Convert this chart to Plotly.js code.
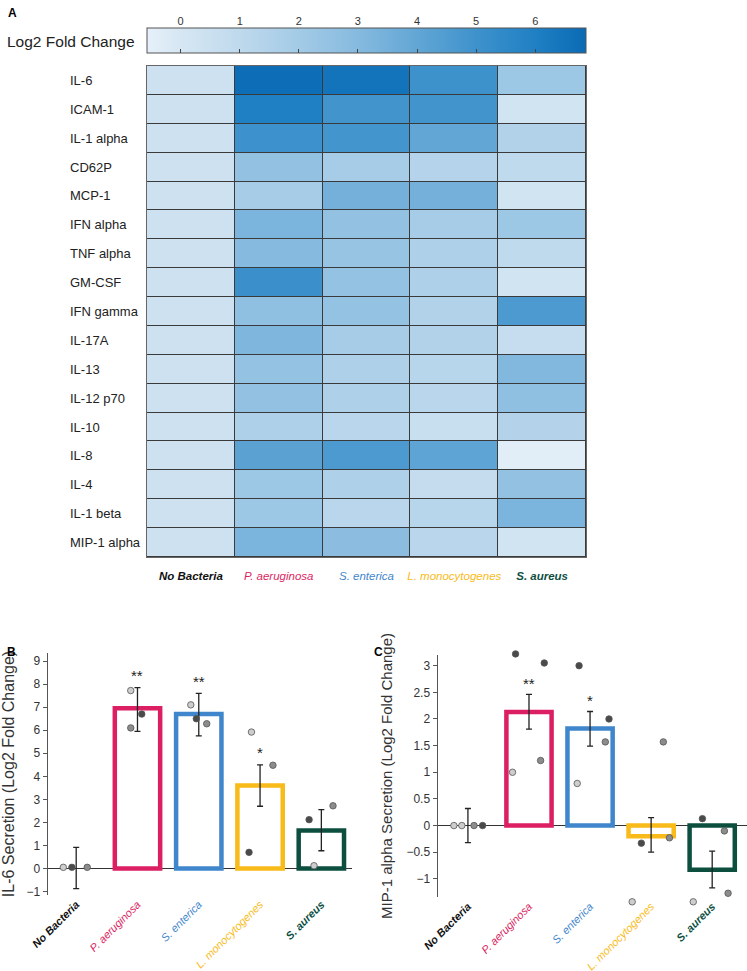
<!DOCTYPE html>
<html>
<head>
<meta charset="utf-8">
<script src="https://cdn.plot.ly/plotly-3.0.1.min.js"></script>
<style>
  html, body { margin: 0; padding: 0; background: #fff; }
  #plot { width: 747px; height: 971px; }
</style>
</head>
<body>
<div id="plot"></div>
<script>
// categories
var bacteria = ['No Bacteria', 'P. aeruginosa', 'S. enterica', 'L. monocytogenes', 'S. aureus'];
var bacteriaColors = ['#111111', '#dc1f63', '#3f86cc', '#f9bb1a', '#0d4f3f'];
var bacteriaBold = [true, false, false, false, true];

var cytokines = ['IL-6', 'ICAM-1', 'IL-1 alpha', 'CD62P', 'MCP-1', 'IFN alpha', 'TNF alpha', 'GM-CSF',
  'IFN gamma', 'IL-17A', 'IL-13', 'IL-12 p70', 'IL-10', 'IL-8', 'IL-4', 'IL-1 beta', 'MIP-1 alpha'];

// panel A: log2 fold change per column
var noBacteria   = [0.4, 0.4, 0.4, 0.4, 0.4, 0.4, 0.4, 0.4, 0.4, 0.4, 0.4, 0.4, 0.4, 0.4, 0.4, 0.4, 0.4];
var pAeruginosa  = [6.75, 6.0, 5.05, 2.6, 1.9, 3.3, 3.0, 5.1, 2.7, 3.2, 2.5, 2.6, 1.6, 4.2, 2.2, 2.2, 3.3];
var sEnterica    = [6.5, 4.9, 4.85, 1.9, 3.5, 2.6, 2.4, 2.5, 2.5, 1.9, 1.6, 1.6, 1.2, 4.6, 1.6, 1.2, 2.8];
var lMonocyto    = [5.0, 4.9, 4.0, 1.35, 3.5, 1.9, 1.6, 1.6, 1.5, 1.5, 1.3, 1.2, 0.6, 4.1, 0.8, 1.3, 1.2];
var sAureus      = [2.2, 0.2, 1.5, 1.0, 0.2, 2.2, 1.0, 0.2, 4.6, 0.7, 3.1, 2.7, 1.4, -0.4, 2.6, 3.3, 0.2];
var scaleTicks = [0, 1, 2, 3, 4, 5, 6];
var zMin = -0.57, zMax = 6.86;

// panel B: IL-6
var il6Mean = [0, 6.95, 6.7, 3.6, 1.65];
var il6ErrPlus = [0.92, 0.9, 0.9, 0.9, 0.9];
var il6ErrMinus = [0.87, 1.0, 0.95, 0.9, 0.88];
var il6Stars = ['', '**', '**', '*', ''];
var il6PtGroup  = [0, 0, 0, 1, 1, 1, 2, 2, 2, 3, 3, 3, 4, 4, 4];
var il6PtOffset = [-0.21, -0.07, 0.18, -0.11, 0.07, -0.11, -0.13, -0.04, 0.13, -0.14, 0.21, -0.18, -0.2, 0.19, -0.12];
var il6PtValue  = [0.05, 0.05, 0.05, 7.72, 6.7, 6.1, 7.1, 6.5, 6.28, 5.92, 4.48, 0.7, 2.12, 2.72, 0.12];
var il6PtShade  = ['L', 'D', 'M', 'L', 'D', 'M', 'L', 'D', 'M', 'L', 'M', 'D', 'D', 'M', 'L'];

// panel C: MIP-1 alpha
var mipMean = [0, 2.13, 1.82, -0.2, -0.83];
var mipErrPlus = [0.32, 0.33, 0.32, 0.35, 0.35];
var mipErrMinus = [0.32, 0.32, 0.33, 0.3, 0.34];
var mipStars = ['', '**', '*', '', ''];
var mipPtGroup  = [0, 0, 0, 0, 1, 1, 1, 1, 2, 2, 2, 2, 3, 3, 3, 3, 4, 4, 4, 4];
var mipPtOffset = [-0.23, -0.1, 0.1, 0.24, -0.22, 0.25, -0.27, 0.19, -0.18, 0.31, 0.25, -0.21,
  0.2, -0.16, 0.3, -0.31, -0.16, 0.2, -0.31, 0.26];
var mipPtValue  = [0, 0, 0, 0, 3.22, 3.05, 1.0, 1.22, 3.0, 2.0, 1.57, 0.79,
  1.57, -0.33, -0.23, -1.43, 0.13, -0.1, -1.43, -1.27];
var mipPtShade  = ['L', 'L', 'M', 'D', 'D', 'D', 'L', 'M', 'D', 'D', 'M', 'L',
  'M', 'D', 'M', 'L', 'D', 'M', 'L', 'M'];

var shadeColor = {L: '#cdcdcd', M: '#8c8c8c', D: '#4a4a4a'};
var FONT = 'Liberation Sans, Arial, sans-serif';

var z = cytokines.map(function (c, i) {
  return [noBacteria[i], pAeruginosa[i], sEnterica[i], lMonocyto[i], sAureus[i]];
});

function tickLabel(name, i) {
  var t = '<i>' + name + '</i>';
  if (bacteriaBold[i]) t = '<b>' + t + '</b>';
  return '<span style="color:' + bacteriaColors[i] + '">' + t + '</span>';
}
var idx = bacteria.map(function (b, i) { return i; });
var ticktext = bacteria.map(tickLabel);

var blues = [
  [0, '#e6f0f9'], [0.077, '#d6e7f3'], [0.211, '#bfd9ed'], [0.346, '#a3cbe6'],
  [0.48, '#86badf'], [0.615, '#62a6d5'], [0.75, '#3e92cc'], [0.884, '#2080c4'], [1, '#0a6ab4']
];

var barLineColors = bacteriaColors.map(function (c, i) { return i === 0 ? 'rgba(0,0,0,0)' : c; });

var data = [
  // dark layer that shows through the cell gaps as grid lines
  {
    type: 'heatmap', x: bacteria, y: cytokines, z: z,
    colorscale: [[0, '#3a3a3a'], [1, '#3a3a3a']], showscale: false, hoverinfo: 'skip',
    xaxis: 'x', yaxis: 'y'
  },
  {
    type: 'heatmap', x: bacteria, y: cytokines, z: z,
    zmin: zMin, zmax: zMax, colorscale: blues, xgap: 1, ygap: 1,
    xaxis: 'x', yaxis: 'y',
    colorbar: {
      orientation: 'h', x: 366.5 / 747, xanchor: 'center', y: 1 - 28 / 971, yanchor: 'top',
      len: 439 / 747, lenmode: 'fraction', thickness: 25, thicknessmode: 'pixels',
      xpad: 0, ypad: 0, outlinewidth: 1, outlinecolor: '#555',
      tickvals: scaleTicks, ticks: 'inside', ticklen: 4, tickcolor: '#444', showticklabels: false
    }
  },
  // empty trace holding the colour bar's label axis
  {type: 'scatter', x: [], y: [], xaxis: 'x4', yaxis: 'y4', showlegend: false},
  {
    type: 'bar', x: idx, y: il6Mean, width: 0.74, xaxis: 'x2', yaxis: 'y2',
    marker: {color: '#ffffff', line: {color: barLineColors, width: 4.5}},
    error_y: {type: 'data', symmetric: false, array: il6ErrPlus, arrayminus: il6ErrMinus, color: '#222', thickness: 1.3, width: 3}
  },
  {
    type: 'scatter', mode: 'markers', xaxis: 'x2', yaxis: 'y2', cliponaxis: false,
    x: il6PtGroup.map(function (g, i) { return g + il6PtOffset[i]; }), y: il6PtValue,
    marker: {size: 6.5, color: il6PtShade.map(function (s) { return shadeColor[s]; }), line: {color: '#555', width: 0.8}}
  },
  {
    type: 'bar', x: idx, y: mipMean, width: 0.74, xaxis: 'x3', yaxis: 'y3',
    marker: {color: '#ffffff', line: {color: barLineColors, width: 4.5}},
    error_y: {type: 'data', symmetric: false, array: mipErrPlus, arrayminus: mipErrMinus, color: '#222', thickness: 1.3, width: 3}
  },
  // points on a hidden, taller y axis with the same scale so values past the axis ends still show
  {
    type: 'scatter', mode: 'markers', xaxis: 'x3', yaxis: 'y5', cliponaxis: false,
    x: mipPtGroup.map(function (g, i) { return g + mipPtOffset[i]; }), y: mipPtValue,
    marker: {size: 6.5, color: mipPtShade.map(function (s) { return shadeColor[s]; }), line: {color: '#555', width: 0.8}}
  }
];

var annotations = [
  {text: '<b>A</b>', xref: 'paper', yref: 'paper', x: 6 / 747, y: 1 - 4 / 971, xanchor: 'left', yanchor: 'top', showarrow: false, font: {size: 12, color: '#000'}},
  {text: '<b>B</b>', xref: 'paper', yref: 'paper', x: 5 / 747, y: 1 - 643 / 971, xanchor: 'left', yanchor: 'top', showarrow: false, font: {size: 12, color: '#000'}},
  {text: '<b>C</b>', xref: 'paper', yref: 'paper', x: 372 / 747, y: 1 - 643 / 971, xanchor: 'left', yanchor: 'top', showarrow: false, font: {size: 12, color: '#000'}},
  {text: 'Log2 Fold Change', xref: 'paper', yref: 'paper', x: 5 / 747, y: 1 - 41 / 971, xanchor: 'left', yanchor: 'middle', showarrow: false, font: {size: 15.5, color: '#222'}}
];
cytokines.forEach(function (c) {
  annotations.push({text: c, xref: 'paper', yref: 'y', x: 68 / 747, y: c, xanchor: 'left', yanchor: 'middle',
    showarrow: false, font: {size: 13, color: '#222'}});
});
function addStars(stars, mean, errPlus, xref, yref, shift) {
  stars.forEach(function (s, i) {
    if (!s) return;
    annotations.push({text: s, xref: xref, yref: yref, x: i, y: mean[i] + errPlus[i], yanchor: 'middle',
      yshift: shift, showarrow: false, font: {size: 15, color: '#222'}});
  });
}
addStars(il6Stars, il6Mean, il6ErrPlus, 'x2', 'y2', 12);
addStars(mipStars, mipMean, mipErrPlus, 'x3', 'y3', 11);

var barX = {
  showgrid: false, zeroline: false, showline: false, tickmode: 'array', tickvals: idx, ticktext: ticktext,
  tickangle: -45, ticks: '', tickfont: {size: 11}, fixedrange: true
};
var barY = {
  showgrid: false, showline: true, linecolor: '#555', linewidth: 1.5, ticks: 'outside', ticklen: 4,
  tickcolor: '#555', tickfont: {size: 12, color: '#333'}, zeroline: true, zerolinecolor: '#333', zerolinewidth: 1.2
};

// panel C pixel scale, used to give the hidden points axis the same units per pixel
var cTop = 655, cBottom = 897, cRange = [-1.34, 3.2];
var cPx = (cBottom - cTop) / (cRange[1] - cRange[0]);
var pRange = [-1.6, 3.4];
var pTop = cTop - (pRange[1] - cRange[1]) * cPx, pBottom = cBottom + (cRange[0] - pRange[0]) * cPx;

var layout = {
  width: 747, height: 971,
  margin: {l: 0, r: 0, t: 0, b: 0},
  paper_bgcolor: '#fff', plot_bgcolor: 'rgba(0,0,0,0)',
  font: {family: FONT, color: '#222'},
  showlegend: false,
  xaxis: {
    domain: [147 / 747, 586 / 747], anchor: 'y', type: 'category',
    tickmode: 'array', tickvals: bacteria, ticktext: ticktext, tickfont: {size: 11.5},
    ticks: 'outside', ticklen: 8, tickcolor: 'rgba(0,0,0,0)',
    showline: true, mirror: true, linecolor: '#666', linewidth: 1, showgrid: false, zeroline: false
  },
  yaxis: {
    domain: [1 - 557 / 971, 1 - 66 / 971], anchor: 'x', type: 'category', autorange: 'reversed',
    showticklabels: false, ticks: '', showline: true, mirror: true, linecolor: '#666', linewidth: 1, showgrid: false
  },
  xaxis4: {
    domain: [147 / 747, 586 / 747], anchor: 'y4', side: 'top', range: [zMin, zMax],
    tickmode: 'array', tickvals: scaleTicks, ticks: '', showgrid: false, zeroline: false, showline: false,
    tickfont: {size: 11, color: '#333'}
  },
  yaxis4: {domain: [1 - 53 / 971, 1 - 28 / 971], anchor: 'x4', visible: false, range: [0, 1]},
  xaxis2: Object.assign({}, barX, {domain: [48 / 747, 352 / 747], anchor: 'y2', range: [-0.46, 4.5]}),
  yaxis2: Object.assign({}, barY, {
    domain: [1 - 895 / 971, 1 - 653 / 971], anchor: 'x2', range: [-1.15, 9.35], dtick: 1,
    title: {text: 'IL-6 Secretion (Log2 Fold Change)', font: {size: 16, color: '#333'}, standoff: 10}
  }),
  xaxis3: Object.assign({}, barX, {domain: [438 / 747, 1], anchor: 'y3', range: [-0.49, 4.57]}),
  yaxis3: Object.assign({}, barY, {
    domain: [1 - cBottom / 971, 1 - cTop / 971], anchor: 'x3', range: cRange, dtick: 0.5,
    title: {text: 'MIP-1 alpha Secretion (Log2 Fold Change)', font: {size: 15, color: '#333'}, standoff: 10}
  }),
  yaxis5: {domain: [1 - pBottom / 971, 1 - pTop / 971], anchor: 'x3', range: pRange, visible: false, showgrid: false, zeroline: false},
  annotations: annotations
};

Plotly.newPlot('plot', data, layout, {displayModeBar: false, staticPlot: true});
</script>
</body>
</html>
